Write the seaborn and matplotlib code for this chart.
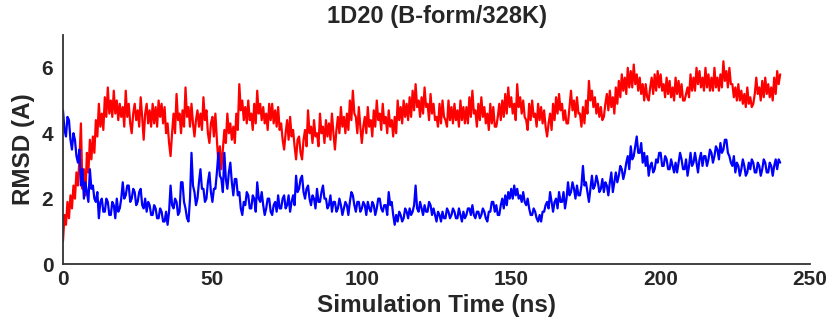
import numpy as np
import pandas as pd
import matplotlib
matplotlib.use("Agg")
import matplotlib.pyplot as plt
import seaborn as sns

rmsd_red = [
    0.7, 1.5, 1.2, 1.9, 1.4, 2.1, 1.7, 2.4, 2.0, 2.8,
    2.4, 3.2, 4.3, 2.3, 2.9, 2.1, 3.4, 2.8, 3.8, 3.2,
    3.9, 3.4, 4.4, 3.9, 4.9, 4.2, 4.6, 4.1, 5.1, 4.5,
    5.4, 4.6, 5.0, 4.5, 5.3, 4.6, 5.0, 4.4, 4.9, 4.5,
    4.8, 4.2, 5.3, 4.5, 4.9, 4.3, 4.0, 4.6, 4.9, 4.4,
    4.7, 4.2, 5.1, 4.5, 3.8, 4.6, 4.9, 4.3, 4.7, 4.2,
    4.9, 4.3, 4.8, 4.2, 5.0, 4.5, 4.9, 4.3, 4.8, 4.0,
    4.3, 3.7, 3.3, 4.0, 4.6, 4.0, 5.2, 4.4, 4.6, 4.0,
    4.7, 4.2, 5.4, 4.5, 4.8, 4.2, 4.9, 4.3, 3.9, 4.4,
    4.7, 4.2, 4.6, 4.1, 5.1, 4.4, 4.7, 4.0, 3.7, 4.3,
    4.5, 3.9, 4.6, 3.8, 3.1, 3.6, 2.9, 3.5, 4.1, 3.7,
    4.6, 4.0, 4.3, 3.8, 4.2, 3.7, 4.6, 4.1, 5.5, 4.7,
    5.0, 4.4, 4.8, 4.3, 5.0, 4.4, 4.6, 4.1, 4.9, 4.3,
    5.3, 4.6, 4.9, 4.4, 4.8, 4.3, 4.6, 4.1, 4.9, 4.4,
    4.9, 4.3, 4.7, 4.2, 4.8, 4.1, 4.3, 3.8, 3.5, 4.0,
    4.4, 3.8, 4.5, 3.9, 4.1, 3.6, 3.2, 3.8, 3.9, 3.4,
    3.2, 3.8, 4.1, 3.6, 4.7, 4.0, 4.2, 3.7, 4.4, 3.9,
    4.0, 3.6, 4.6, 4.0, 4.2, 3.7, 4.4, 3.9, 4.3, 3.8,
    4.6, 4.0, 3.5, 4.1, 4.5, 4.0, 4.8, 4.2, 4.5, 4.0,
    4.6, 4.1, 5.0, 4.4, 5.3, 4.6, 4.5, 4.0, 4.8, 4.2,
    3.7, 4.2, 4.5, 4.0, 4.8, 4.2, 4.4, 3.9, 4.7, 4.2,
    5.0, 4.4, 4.6, 4.1, 4.9, 4.3, 4.5, 4.0, 4.7, 4.2,
    4.4, 3.9, 4.5, 4.0, 5.0, 4.4, 4.8, 4.3, 5.0, 4.5,
    4.9, 4.4, 5.1, 4.5, 5.3, 4.7, 5.5, 4.8, 5.0, 4.5,
    5.1, 4.6, 5.4, 4.8, 4.9, 4.4, 5.2, 4.6, 4.9, 4.4,
    4.5, 4.2, 4.9, 4.3, 5.0, 4.5, 4.4, 4.2, 5.0, 4.4,
    4.8, 4.3, 4.9, 4.4, 4.7, 4.2, 5.0, 4.4, 4.8, 4.3,
    4.8, 4.3, 5.1, 4.5, 5.3, 4.6, 4.7, 4.2, 4.9, 4.4,
    5.1, 4.5, 4.8, 4.3, 4.6, 4.1, 4.9, 4.3, 4.8, 4.2,
    4.2, 4.5, 4.9, 4.4, 5.0, 4.5, 5.2, 4.6, 5.4, 4.8,
    5.1, 4.6, 4.9, 4.4, 5.5, 4.8, 5.1, 4.6, 5.0, 4.5,
    4.4, 4.1, 4.9, 4.4, 5.0, 4.5, 4.6, 4.2, 4.9, 4.4,
    4.8, 4.3, 4.7, 4.2, 3.9, 4.3, 4.6, 4.1, 4.9, 4.4,
    5.1, 4.6, 5.2, 4.7, 4.9, 4.4, 4.7, 4.3, 4.3, 4.8,
    5.3, 4.7, 5.0, 4.5, 5.1, 4.6, 4.6, 4.2, 4.8, 4.3,
    5.0, 4.6, 5.6, 5.0, 5.3, 4.8, 5.1, 4.6, 4.9, 4.5,
    4.8, 4.4, 4.5, 4.9, 5.2, 4.7, 5.3, 4.8, 5.1, 4.6,
    5.4, 4.9, 5.6, 5.1, 5.8, 5.3, 5.7, 5.2, 6.0, 5.4,
    5.9, 5.4, 6.1, 5.5, 5.8, 5.3, 5.7, 5.2, 5.5, 5.0,
    5.5, 5.1, 5.0, 5.4, 5.7, 5.2, 5.8, 5.3, 5.9, 5.4,
    5.8, 5.3, 5.5, 5.1, 5.7, 5.2, 5.6, 5.1, 5.4, 5.0,
    5.7, 5.2, 5.6, 5.1, 5.5, 5.0, 5.0, 5.2, 5.4, 5.1,
    5.8, 5.3, 5.7, 5.3, 6.0, 5.5, 5.9, 5.4, 5.7, 5.3,
    6.0, 5.4, 5.8, 5.3, 5.7, 5.3, 6.0, 5.4, 5.7, 5.3,
    5.8, 5.4, 6.2, 5.6, 5.9, 5.4, 6.0, 5.5, 5.5, 5.1,
    5.4, 5.0, 5.5, 5.0, 5.3, 4.9, 5.2, 4.8, 5.4, 4.9,
    5.1, 4.8, 4.9, 5.2, 5.7, 5.2, 5.4, 5.0, 5.6, 5.1,
    5.7, 5.2, 5.5, 5.1, 5.4, 5.0, 5.7, 5.2, 5.9, 5.5,
    5.8,
]

rmsd_blue = [
    4.7, 4.1, 3.9, 4.5, 4.4, 3.8, 3.5, 4.0, 3.8, 3.3,
    3.1, 3.5, 2.4, 2.9, 2.0, 2.5, 2.2, 1.9, 2.9, 2.3,
    2.4, 2.0, 1.9, 2.2, 1.4, 1.9, 2.0, 1.6, 1.6, 2.0,
    1.9, 1.5, 1.5, 1.9, 1.8, 1.4, 2.0, 1.6, 1.7, 2.0,
    2.5, 2.0, 2.1, 2.4, 2.4, 1.9, 2.0, 2.3, 2.2, 1.8,
    1.9, 2.2, 2.3, 1.8, 1.7, 2.0, 1.6, 1.9, 1.8, 1.5,
    1.5, 1.8, 1.7, 1.4, 1.4, 1.7, 1.6, 1.3, 1.3, 1.6,
    1.2, 1.6, 2.4, 1.8, 1.7, 2.0, 1.9, 1.5, 1.6, 2.5,
    2.5, 1.9, 1.7, 1.4, 1.3, 2.0, 3.4, 2.4, 2.2, 1.8,
    2.0, 2.5, 2.9, 2.3, 2.3, 1.9, 2.0, 2.5, 2.8, 2.2,
    1.9, 2.3, 2.3, 2.8, 3.4, 2.7, 2.6, 2.2, 3.4, 2.6,
    2.3, 2.8, 3.1, 2.5, 2.1, 2.6, 2.6, 2.1, 2.2, 1.7,
    1.5, 1.9, 1.8, 2.2, 2.1, 1.7, 1.7, 2.1, 2.0, 1.6,
    2.5, 2.0, 1.9, 2.2, 1.8, 1.5, 1.7, 2.0, 2.0, 1.6,
    1.5, 1.8, 1.9, 1.6, 2.1, 1.7, 1.7, 2.0, 2.1, 1.7,
    1.8, 2.1, 1.6, 1.9, 2.1, 1.8, 2.7, 2.2, 2.3, 2.6,
    2.7, 2.2, 2.0, 2.3, 2.4, 2.0, 1.8, 2.1, 2.0, 1.7,
    2.3, 1.9, 1.9, 2.2, 2.4, 2.0, 2.0, 1.7, 1.8, 2.1,
    1.6, 1.9, 1.9, 1.6, 1.7, 2.0, 1.8, 1.5, 1.7, 1.9,
    1.8, 1.5, 1.9, 2.2, 2.1, 1.8, 1.6, 1.9, 1.9, 1.6,
    1.7, 1.9, 1.8, 1.5, 1.9, 1.7, 1.6, 1.9, 1.8, 1.5,
    1.7, 2.0, 2.0, 1.7, 1.6, 1.8, 1.8, 1.5, 2.2, 1.8,
    1.9, 1.5, 1.2, 1.5, 1.3, 1.6, 1.5, 1.3, 1.4, 1.7,
    1.6, 1.4, 1.7, 1.5, 1.6, 1.8, 2.4, 1.7, 1.6, 1.9,
    1.7, 1.5, 1.8, 1.6, 1.6, 1.9, 1.8, 1.5, 1.7, 1.5,
    1.3, 1.6, 1.5, 1.3, 1.6, 1.4, 1.4, 1.7, 1.6, 1.4,
    1.5, 1.7, 1.6, 1.4, 1.4, 1.7, 1.5, 1.3, 1.6, 1.4,
    1.5, 1.7, 1.7, 1.5, 1.8, 1.5, 1.4, 1.6, 1.6, 1.4,
    1.5, 1.7, 1.6, 1.4, 1.3, 1.6, 1.6, 1.9, 1.9, 1.6,
    1.8, 1.5, 1.5, 1.8, 2.0, 1.7, 2.1, 1.8, 2.2, 2.0,
    2.3, 2.0, 2.4, 2.1, 2.3, 2.0, 2.1, 1.9, 2.2, 1.9,
    1.8, 2.0, 1.7, 1.5, 1.5, 1.7, 1.6, 1.4, 1.3, 1.5,
    1.3, 1.6, 1.6, 1.8, 1.9, 1.7, 2.2, 1.9, 1.6, 1.9,
    2.0, 1.7, 2.2, 1.9, 1.9, 2.2, 1.7, 2.0, 2.5, 2.1,
    2.2, 2.5, 2.3, 2.0, 2.4, 2.1, 2.1, 2.4, 3.0, 2.4,
    2.5, 2.2, 1.9, 2.3, 2.7, 2.3, 2.4, 2.7, 2.5, 2.2,
    2.3, 2.6, 2.2, 2.5, 2.4, 2.1, 2.5, 2.8, 2.2, 2.5,
    2.8, 2.5, 2.7, 3.0, 2.9, 2.6, 2.8, 3.1, 3.3, 2.9,
    3.6, 3.2, 3.3, 3.6, 3.9, 3.4, 3.4, 3.7, 3.1, 3.4,
    3.0, 3.3, 2.7, 3.0, 3.1, 2.8, 2.9, 3.2, 3.1, 3.4,
    3.4, 3.0, 3.0, 3.3, 3.2, 2.9, 2.9, 3.2, 3.0, 2.8,
    3.1, 2.8, 3.1, 3.4, 3.2, 2.9, 2.9, 3.2, 2.7, 3.0,
    3.4, 3.0, 3.1, 3.4, 3.1, 2.8, 3.2, 3.4, 3.0, 3.3,
    3.3, 3.0, 3.2, 3.5, 3.4, 3.1, 3.3, 3.6, 3.5, 3.2,
    3.7, 3.4, 3.5, 3.8, 3.8, 3.4, 3.3, 3.1, 3.0, 3.3,
    2.8, 3.1, 3.0, 2.7, 2.9, 3.2, 3.0, 2.7, 2.8, 3.1,
    2.9, 3.2, 3.1, 2.8, 2.8, 3.1, 3.0, 2.7, 2.9, 3.2,
    3.1, 2.8, 2.8, 3.1, 3.0, 2.7, 3.0, 3.2, 2.9, 3.2,
    3.1,
]

time_red = [0.5 * i for i in range(len(rmsd_red))]
time_blue = [0.5 * i for i in range(len(rmsd_blue))]

x_ticks = [0, 50, 100, 150, 200, 250]
y_ticks = [0, 2, 4, 6]

sns.set_style("white")
plt.rcParams['font.family'] = ['Liberation Sans', 'DejaVu Sans']
plt.rcParams['font.weight'] = 'bold'

fig = plt.figure(figsize=(8.31, 3.28), dpi=100)
ax = fig.add_axes([0.0758, 0.195, 0.899, 0.698])

df = pd.DataFrame({"t": time_red + time_blue,
                   "rmsd": rmsd_red + rmsd_blue,
                   "series": ["red"] * len(time_red) + ["blue"] * len(time_blue)})
sns.lineplot(data=df, x="t", y="rmsd", hue="series",
             palette={"red": "#ff0000", "blue": "#0000ff"},
             linewidth=1.6, legend=False, ax=ax, estimator=None)

ax.set_xlim(0, 250)
ax.set_ylim(0, 7)
ax.set_xticks(x_ticks)
ax.set_yticks(y_ticks)
ax.set_xticklabels([str(v) for v in x_ticks], fontsize=15, fontweight='bold')
ax.set_yticklabels([str(v) for v in y_ticks], fontsize=15, fontweight='bold')
ax.tick_params(direction='in', length=5, width=1.3, color='#333333')
ax.tick_params(axis='x', pad=4)
ax.tick_params(axis='y', pad=7)
for s in ['top', 'right']:
    ax.spines[s].set_visible(False)
for s in ['left', 'bottom']:
    ax.spines[s].set_color('#333333')
    ax.spines[s].set_linewidth(1.3)

ax.set_xlabel("Simulation Time (ns)", fontsize=17.5, fontweight='bold', labelpad=4)
ax.set_ylabel("RMSD (A)", fontsize=17.5, fontweight='bold', labelpad=5)
ax.set_title("1D20 (B-form/328K)", fontsize=17, fontweight='bold', pad=9)

fig.savefig("out.png", dpi=100)
